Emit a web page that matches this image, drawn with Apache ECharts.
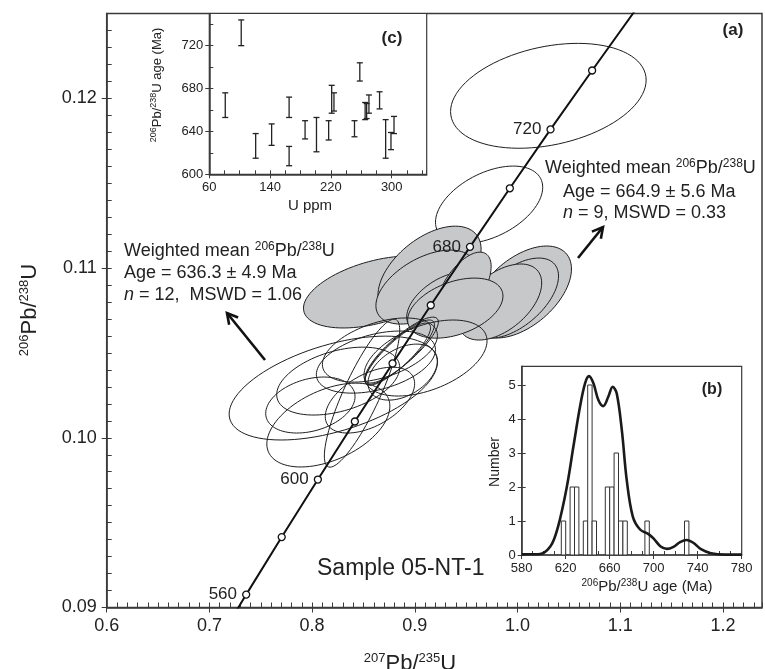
<!DOCTYPE html>
<html>
<head>
<meta charset="utf-8">
<script src="https://cdn.jsdelivr.net/npm/echarts@6/dist/echarts.min.js"></script>
<style>
  html, body { margin: 0; padding: 0; background: #fff; }
  #main { width: 765px; height: 669px; }
</style>
</head>
<body>
<div id="main"></div>
<script>
// ---- concordia (Ma) and ratios ----
const concAges = [540, 560, 580, 600, 620, 640, 660, 680, 700, 720, 740, 760, 780];
const concX = [0.7020, 0.7358, 0.7704, 0.8056, 0.8416, 0.8783, 0.9155, 0.9537, 0.9925, 1.0321, 1.0726, 1.1138, 1.1559];
const concY = [0.08738, 0.09076, 0.09415, 0.09754, 0.10096, 0.10438, 0.10781, 0.11125, 0.11470, 0.11817, 0.12164, 0.12512, 0.12862];
const markerAges = [560, 580, 600, 620, 640, 660, 680, 700, 720, 740];
const labelledAges = [560, 600, 680, 720];

// ---- error ellipses: [207Pb/235U, 206Pb/238U, sigma x, sigma y, rho] ----
const openUpper = [
  [1.0300, 0.12015, 0.0952, 0.00309, 0.30],
  [0.9723, 0.11373, 0.0522, 0.00228, 0.45]
];
const greyGroup = [
  [0.8621, 0.10859, 0.0705, 0.00212, 0.45],
  [0.9143, 0.10976, 0.0502, 0.00271, 0.50],
  [0.9104, 0.10888, 0.0483, 0.00218, 0.50],
  [0.9288, 0.10800, 0.0367, 0.00177, 0.50],
  [1.0042, 0.10859, 0.0483, 0.00271, 0.50],
  [0.9974, 0.10823, 0.0425, 0.00236, 0.55],
  [0.9829, 0.10800, 0.0406, 0.00224, 0.50],
  [0.9472, 0.10882, 0.0271, 0.00212, 0.60],
  [0.9394, 0.10764, 0.0464, 0.00177, 0.40]
];
const openLower = [
  [0.8206, 0.10293, 0.1014, 0.00306, 0.50],
  [0.8158, 0.10075, 0.0599, 0.00247, 0.45],
  [0.8254, 0.10334, 0.0599, 0.00200, 0.40],
  [0.7983, 0.10193, 0.0435, 0.00165, 0.30],
  [0.8621, 0.10446, 0.0580, 0.00183, 0.40],
  [0.8660, 0.10517, 0.0560, 0.00189, 0.45],
  [0.8486, 0.10263, 0.0367, 0.00436, 0.85],
  [0.9104, 0.10470, 0.0599, 0.00224, 0.45],
  [0.8882, 0.10387, 0.0338, 0.00165, 0.40],
  [0.8853, 0.10505, 0.0338, 0.00189, 0.85],
  [0.8872, 0.10517, 0.0357, 0.00194, 0.85],
  [0.8834, 0.10493, 0.0319, 0.00183, 0.85],
  [0.8563, 0.10222, 0.0435, 0.00194, 0.50]
];

// ---- inset (c): U ppm vs age with 1 sigma range ----
const uPpm   = [81, 102, 121, 142, 165, 165, 186, 201, 217, 221, 224, 251, 258, 265, 267, 270, 284, 292, 299, 303];
const ageLow = [653, 720, 615, 627, 653, 608, 633, 621, 632, 657, 659, 635, 687, 651, 652, 657, 661, 615, 623, 638];
const ageHigh= [676, 744, 638, 647, 672, 626, 650, 653, 650, 683, 676, 650, 704, 667, 666, 674, 677, 651, 639, 654];

// ---- inset (b): histogram + probability curve ----
const binCentres = [618, 626, 630, 638, 642, 646, 658, 662, 666, 670, 674, 694, 730];
const binCounts  = [1, 2, 2, 1, 5, 1, 2, 2, 3, 1, 1, 1, 1];
const binWidth = 4;
const kdeAge = [580, 595, 606, 613, 621, 627, 633, 637.6, 641.2, 645.2, 649.7, 654.2, 658.8, 662.7, 666.4, 671, 675.5, 681, 687.6, 695, 700, 706, 712, 718, 724, 730, 736, 743, 752, 765, 780];
const kdeDensity = [0.02, 0.02, 0.25, 0.83, 2.0, 3.19, 4.36, 5.05, 5.26, 5.05, 4.56, 4.38, 4.66, 4.95, 4.75, 3.68, 2.2, 1.13, 0.75, 0.62, 0.48, 0.26, 0.18, 0.24, 0.38, 0.44, 0.36, 0.17, 0.05, 0.01, 0.01];

const FONT = 'Liberation Sans, Arial, Helvetica, sans-serif';
const INK = '#222';
const AXIS = '#3a3a3a';

var chart = echarts.init(document.getElementById('main'));

function isStep(v, start, step) {
  const k = (v - start) / step;
  return Math.abs(k - Math.round(k)) < 1e-6;
}

// a pair of axes: fine ticks inside + major ticks outside with labels
function axisPair(kind, grid, min, max, fine, major, fontSize, margin, majors) {
  const line = { show: true, onZero: false, lineStyle: { color: AXIS, width: 1.5 } };
  const minorAx = {
    type: 'value', gridIndex: grid, min: min, max: max, interval: fine,
    axisLine: line,
    axisTick: { show: true, inside: true, length: kind === 'main' ? 5 : 4, lineStyle: { color: AXIS, width: 1 } },
    axisLabel: {
      show: true, margin: margin, fontSize: fontSize, fontFamily: FONT, color: INK,
      formatter: function (v) { return isStep(v, min, major) && v <= majors[majors.length - 1] + 1e-9 ? String(+v.toFixed(4)) : ''; }
    },
    splitLine: { show: false }
  };
  const majorAx = {
    type: 'value', gridIndex: grid, min: min, max: max, interval: major,
    axisLine: { show: false, onZero: false },
    axisTick: { show: true, inside: false, length: kind === 'main' ? 5 : 4, customValues: majors, lineStyle: { color: AXIS, width: 1 } },
    axisLabel: { show: false },
    splitLine: { show: false }
  };
  return [minorAx, majorAx];
}

const mainX = axisPair('main', 0, 0.6, 1.238, 0.01, 0.1, 18, 10, [0.6, 0.7, 0.8, 0.9, 1.0, 1.1, 1.2]);
mainX[0].axisLabel.formatter = function (v) { return isStep(v, 0.6, 0.1) && v < 1.21 ? v.toFixed(1) : ''; };
const mainY = axisPair('main', 0, 0.09, 0.125, 0.001, 0.01, 18, 10, [0.09, 0.10, 0.11, 0.12]);
mainY[0].axisLabel.formatter = function (v) { return isStep(v, 0.09, 0.01) && v < 0.121 ? v.toFixed(2) : ''; };
const cX = axisPair('inset', 1, 60, 346, 20, 80, 13, 7, [60, 140, 220, 300]);
const cY = axisPair('inset', 1, 600, 750, 20, 40, 13, 6, [600, 640, 680, 720]);
const bX = axisPair('inset', 2, 580, 780, 10, 40, 13, 7, [580, 620, 660, 700, 740, 780]);
const bY = axisPair('inset', 2, 0, 5.55, 1, 1, 13, 6, [0, 1, 2, 3, 4, 5]);
[mainX, cX, bX].forEach(function (p) { p[0].position = 'bottom'; p[1].position = 'bottom'; });
[mainY, cY, bY].forEach(function (p) { p[0].position = 'left'; p[1].position = 'left'; });

function ellipseItem(fill) {
  return function (params, api) {
    const cx = api.value(0), cy = api.value(1), sx = api.value(2), sy = api.value(3), r = api.value(4);
    const k = Math.sqrt(1 - r * r);
    const pts = [];
    for (let i = 0; i < 90; i++) {
      const t = i / 90 * Math.PI * 2;
      const u = Math.cos(t), v = Math.sin(t);
      pts.push(api.coord([cx + sx * u, cy + sy * (r * u + k * v)]));
    }
    return {
      type: 'polygon',
      shape: { points: pts },
      style: { fill: fill, stroke: '#1e1e1e', lineWidth: 1 }
    };
  };
}

const conc = concX.map(function (x, i) { return [x, concY[i], concAges[i]]; });
const markers = conc.filter(function (d) { return markerAges.indexOf(d[2]) >= 0; });

function sup(s) { return '{s|' + s + '}'; }
function nrm(s) { return '{n|' + s + '}'; }
function richStyle(big, small) {
  return {
    n: { fontSize: big, lineHeight: big + 3, fontFamily: FONT, fill: INK },
    s: { fontSize: small, lineHeight: small + 2, verticalAlign: 'top', fontFamily: FONT, fill: INK },
    i: { fontSize: big, lineHeight: big + 3, fontFamily: FONT, fontStyle: 'italic', fill: INK }
  };
}
function txt(x, y, text, big, small, align, rot) {
  return {
    type: 'text', x: x, y: y, rotation: rot || 0, z: 20,
    style: { text: text, rich: richStyle(big, small || Math.round(big * 0.62)), align: align || 'left', verticalAlign: 'middle', fill: INK }
  };
}
function arrow(x1, y1, x2, y2) {
  const ang = Math.atan2(y2 - y1, x2 - x1);
  const L = 12, a = 0.5;
  const p1 = [x2 - L * Math.cos(ang - a), y2 - L * Math.sin(ang - a)];
  const p2 = [x2 - L * Math.cos(ang + a), y2 - L * Math.sin(ang + a)];
  return [
    { type: 'line', z: 20, shape: { x1: x1, y1: y1, x2: x2, y2: y2 }, style: { stroke: '#111', lineWidth: 2.6 } },
    { type: 'polyline', z: 20, shape: { points: [p1, [x2, y2], p2] }, style: { stroke: '#111', lineWidth: 2.6, fill: null } }
  ];
}

const ratioLabel = sup('206') + nrm('Pb/') + sup('238') + nrm('U');

var option = {
  backgroundColor: '#fff',
  animation: false,
  grid: [
    { left: 106.7, top: 13.5, right: -2, bottom: 61.5, show: true, borderColor: AXIS, borderWidth: 1.5 },
    { left: 209.3, top: 13.5, width: 217.4, height: 160.8, show: true, borderColor: AXIS, borderWidth: 1.2, backgroundColor: '#fff' },
    { left: 521.7, top: 366.3, width: 220, height: 188.7, show: true, borderColor: AXIS, borderWidth: 1.2, backgroundColor: '#fff' }
  ],
  xAxis: [mainX[0], mainX[1], cX[0], cX[1], bX[0], bX[1]],
  yAxis: [mainY[0], mainY[1], cY[0], cY[1], bY[0], bY[1]],
  series: [
    { type: 'custom', xAxisIndex: 0, yAxisIndex: 0, z: 2, clip: true, silent: true,
      renderItem: ellipseItem('rgba(0,0,0,0)'), data: openUpper },
    { type: 'custom', xAxisIndex: 0, yAxisIndex: 0, z: 3, clip: true, silent: true,
      renderItem: ellipseItem('#c7c8ca'), data: greyGroup },
    { type: 'custom', xAxisIndex: 0, yAxisIndex: 0, z: 4, clip: true, silent: true,
      renderItem: ellipseItem('rgba(0,0,0,0)'), data: openLower },
    { type: 'line', xAxisIndex: 0, yAxisIndex: 0, z: 5, clip: true, silent: true,
      showSymbol: false, symbol: 'none', data: conc,
      lineStyle: { color: '#111', width: 2 } },
    { type: 'scatter', xAxisIndex: 0, yAxisIndex: 0, z: 6, silent: true,
      symbol: 'circle', symbolSize: 7, data: markers,
      itemStyle: { color: '#fff', borderColor: '#111', borderWidth: 1.3, opacity: 1 },
      label: {
        show: true, position: 'left', distance: 5, fontSize: 17, fontFamily: FONT, color: INK,
        formatter: function (p) { return labelledAges.indexOf(p.data[2]) >= 0 ? String(p.data[2]) : ''; }
      } },
    { type: 'custom', xAxisIndex: 2, yAxisIndex: 2, z: 5, silent: true,
      data: uPpm.map(function (u, i) { return [u, ageLow[i], ageHigh[i]]; }),
      renderItem: function (params, api) {
        const lo = api.coord([api.value(0), api.value(1)]);
        const hi = api.coord([api.value(0), api.value(2)]);
        const w = 3;
        const st = function () { return { stroke: '#222', lineWidth: 1.3 }; };
        return { type: 'group', children: [
          { type: 'line', shape: { x1: lo[0], y1: lo[1], x2: hi[0], y2: hi[1] }, style: st() },
          { type: 'line', shape: { x1: lo[0] - w, y1: lo[1], x2: lo[0] + w, y2: lo[1] }, style: st() },
          { type: 'line', shape: { x1: hi[0] - w, y1: hi[1], x2: hi[0] + w, y2: hi[1] }, style: st() }
        ] };
      } },
    { type: 'custom', xAxisIndex: 4, yAxisIndex: 4, z: 5, silent: true,
      data: binCentres.map(function (c, i) { return [c, binCounts[i]]; }),
      renderItem: function (params, api) {
        const a = api.coord([api.value(0) - binWidth / 2, api.value(1)]);
        const b = api.coord([api.value(0) + binWidth / 2, 0]);
        return { type: 'rect', shape: { x: a[0], y: a[1], width: b[0] - a[0], height: b[1] - a[1] },
          style: { fill: '#fff', stroke: '#333', lineWidth: 1 } };
      } },
    { type: 'line', xAxisIndex: 4, yAxisIndex: 4, z: 6, silent: true, smooth: 0.35,
      showSymbol: false, symbol: 'none',
      data: kdeAge.map(function (a, i) { return [a, kdeDensity[i]]; }),
      lineStyle: { color: '#1a1a1a', width: 2.6 } }
  ],
  graphic: [
    txt(410, 664, sup('207') + nrm('Pb/') + sup('235') + nrm('U'), 22, 13, 'center'),
    txt(30, 310, ratioLabel, 22, 13, 'center', Math.PI / 2),
    txt(157, 85, ratioLabel + nrm(' age (Ma)'), 13, 9, 'center', Math.PI / 2),
    txt(310, 206, nrm('U ppm'), 15, 9, 'center'),
    txt(647, 587, ratioLabel + nrm(' age (Ma)'), 15, 10, 'center'),
    txt(495, 462, nrm('Number'), 14, 9, 'center', Math.PI / 2),
    { type: 'text', x: 733, y: 30, z: 20, style: { text: '(a)', font: 'bold 17px ' + FONT, fill: INK, align: 'center', verticalAlign: 'middle' } },
    { type: 'text', x: 392, y: 38, z: 20, style: { text: '(c)', font: 'bold 17px ' + FONT, fill: INK, align: 'center', verticalAlign: 'middle' } },
    { type: 'text', x: 712, y: 390, z: 20, style: { text: '(b)', font: 'bold 16px ' + FONT, fill: INK, align: 'center', verticalAlign: 'middle' } },
    txt(545, 168, nrm('Weighted mean ') + ratioLabel, 18, 12),
    txt(563, 192, nrm('Age = 664.9 \u00b1 5.6 Ma'), 18, 12),
    txt(563, 213, '{i|n}' + nrm(' = 9, MSWD = 0.33'), 18, 12),
    txt(124, 251, nrm('Weighted mean ') + ratioLabel, 18, 12),
    txt(124, 273, nrm('Age = 636.3 \u00b1 4.9 Ma'), 18, 12),
    txt(124, 295, '{i|n}' + nrm(' = 12,  MSWD = 1.06'), 18, 12),
    txt(317, 569, nrm('Sample 05-NT-1'), 23, 14)
  ].concat(arrow(578, 258, 603, 227), arrow(265, 360, 227, 313))
};

chart.setOption(option);
</script>
</body>
</html>
